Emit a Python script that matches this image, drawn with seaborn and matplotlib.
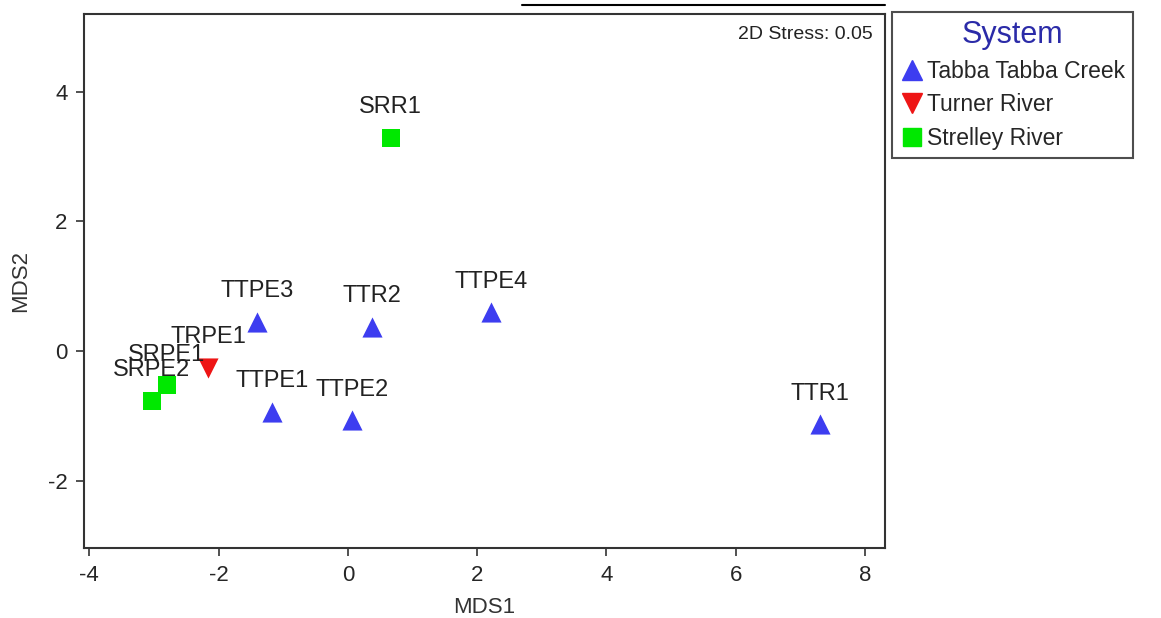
import matplotlib
matplotlib.use("Agg")
import matplotlib.pyplot as plt
from matplotlib.lines import Line2D
import pandas as pd
import seaborn as sns

sites = ["SRR1", "TTPE3", "TTR2", "TTPE4", "TRPE1", "SRPE1", "SRPE2", "TTPE1", "TTPE2", "TTR1"]
mds1 = [0.66, -1.41, 0.37, 2.21, -2.16, -2.80, -3.03, -1.17, 0.06, 7.30]
mds2 = [3.29, 0.45, 0.37, 0.60, -0.26, -0.53, -0.77, -0.94, -1.07, -1.13]
system = ["Strelley River", "Tabba Tabba Creek", "Tabba Tabba Creek", "Tabba Tabba Creek",
          "Turner River", "Strelley River", "Strelley River", "Tabba Tabba Creek",
          "Tabba Tabba Creek", "Tabba Tabba Creek"]

systems = ["Tabba Tabba Creek", "Turner River", "Strelley River"]
colors = {"Tabba Tabba Creek": "#3d3df0", "Turner River": "#ee1515", "Strelley River": "#00e800"}
markers = {"Tabba Tabba Creek": "^", "Turner River": "v", "Strelley River": "s"}

df = pd.DataFrame({"site": sites, "MDS1": mds1, "MDS2": mds2, "System": system})

sns.set_theme(style="white")
plt.rcParams["font.family"] = ["Liberation Sans", "DejaVu Sans"]
plt.rcParams["axes.unicode_minus"] = False

fig = plt.figure(figsize=(11.61, 6.18), dpi=100)
ax = fig.add_axes([0.0724, 0.1133, 0.69, 0.864])

for s in systems:
    sub = df[df["System"] == s]
    size = 150 if markers[s] == "s" else 210
    sns.scatterplot(data=sub, x="MDS1", y="MDS2", ax=ax, marker=markers[s],
                    color=colors[s], s=size, linewidth=0, legend=False, zorder=3)

# Site labels above each point (SRPE1/SRPE2 overlap as in the original)
for _, row in df.iterrows():
    ax.annotate(row["site"], (row["MDS1"], row["MDS2"]), xytext=(0, 22),
                textcoords="offset points", ha="center", va="center",
                fontsize=17, color="#222222")

ax.set_xlim(-4.08, 8.31)
ax.set_ylim(-3.04, 5.2)
ax.set_xticks([-4, -2, 0, 2, 4, 6, 8])
ax.set_yticks([-2, 0, 2, 4])
ax.tick_params(axis="both", direction="out", length=6, width=1.2, color="#333333",
               labelsize=16, bottom=True, left=True, pad=6)
for sp in ax.spines.values():
    sp.set_color("#333333")
    sp.set_linewidth(1.5)

ax.set_xlabel("MDS1", fontsize=16, color="#333333", labelpad=8)
ax.set_ylabel("MDS2", fontsize=16, color="#333333", labelpad=12)

ax.text(0.985, 0.962, "2D Stress: 0.05", transform=ax.transAxes, ha="right", va="center",
        fontsize=14, color="#222222")

# Legend
handles = [Line2D([], [], marker=markers[s], color=colors[s], linestyle="none",
                  markersize=15 if markers[s] != "s" else 13) for s in systems]
leg = fig.legend(handles, systems, title="System", loc="upper left",
                 bbox_to_anchor=(0.768, 0.981), frameon=True, fancybox=False,
                 fontsize=16.5, title_fontsize=22, handletextpad=0.1, handlelength=1.1,
                 labelspacing=0.45, borderpad=0.35, borderaxespad=0)
leg.get_title().set_color("#2b2ba8")
leg.get_frame().set_edgecolor("#222222")
leg.get_frame().set_linewidth(1.5)

# Stray line above the plot frame in the original figure
fig.add_artist(Line2D([0.4496, 0.7623], [0.9919, 0.9919], color="black", linewidth=1.5,
                      transform=fig.transFigure))

fig.savefig("out.png", dpi=100)
plt.close(fig)
